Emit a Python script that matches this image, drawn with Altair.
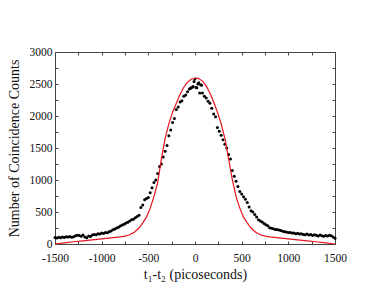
import altair as alt
import pandas as pd

t_data = [-1500, -1480, -1460, -1440, -1420, -1400, -1380, -1360, -1340, -1320,
          -1300, -1280, -1260, -1240, -1220, -1200, -1180, -1160, -1140, -1120,
          -1100, -1080, -1060, -1040, -1020, -1000, -980, -960, -940, -920,
          -900, -880, -860, -840, -820, -800, -780, -760, -740, -720,
          -700, -680, -660, -640, -620, -600, -580, -560, -540, -520,
          -500, -480, -460, -440, -420, -400, -380, -360, -340, -320,
          -300, -280, -260, -240, -220, -200, -180, -160, -140, -120,
          -100, -80, -60, -40, -20, 0, 20, 40, 60, 80,
          100, 120, 140, 160, 180, 200, 220, 240, 260, 280,
          300, 320, 340, 360, 380, 400, 420, 440, 460, 480,
          500, 520, 540, 560, 580, 600, 620, 640, 660, 680,
          700, 720, 740, 760, 780, 800, 820, 840, 860, 880,
          900, 920, 940, 960, 980, 1000, 1020, 1040, 1060, 1080,
          1100, 1120, 1140, 1160, 1180, 1200, 1220, 1240, 1260, 1280,
          1300, 1320, 1340, 1360, 1380, 1400, 1420, 1440, 1460, 1480, 1500,
          -50, -30, -10, 10, 30, 50, 70]
counts = [100, 92, 105, 98, 110, 102, 115, 108, 118, 104,
          112, 128, 138, 132, 122, 140, 110, 96, 125, 118,
          140, 150, 145, 160, 155, 170, 165, 180, 175, 192,
          205, 222, 235, 250, 262, 280, 295, 310, 328, 340,
          360, 378, 388, 410, 430, 450, 570, 610, 690, 710,
          725, 800, 880, 960, 1000, 1100, 1210, 1250, 1360, 1450,
          1540, 1690, 1780, 1900, 1960, 2100, 2140, 2220, 2240, 2310,
          2330, 2380, 2420, 2440, 2460, 2580, 2440, 2520, 2490, 2360,
          2310, 2280, 2230, 2200, 2120, 2030, 1990, 1820, 1760, 1700,
          1630, 1560, 1500, 1400, 1330, 1150, 1060, 980, 900, 820,
          780, 740, 700, 650, 580, 520, 500, 460, 420, 380,
          360, 345, 320, 300, 285, 255, 248, 240, 228, 225,
          218, 210, 198, 192, 188, 180, 178, 170, 172, 162,
          168, 155, 162, 150, 145, 155, 140, 148, 132, 145,
          138, 125, 140, 130, 120, 132, 125, 138, 128, 110, 90,
          2435, 2450, 2540, 2445, 2500, 2360, 2480]

# fitted curve
t_fit = [-1500, -1400, -1300, -1200, -1100, -1000, -900, -800, -750, -700,
         -650, -600, -560, -520, -480, -440, -400, -360, -320, -280,
         -240, -200, -160, -120, -80, -40, 0, 20, 40, 80,
         120, 160, 200, 240, 280, 320, 360, 400, 440, 480,
         520, 560, 600, 650, 700, 750, 800, 900, 1000, 1100,
         1200, 1300, 1400, 1500]
fit = [0, 18, 35, 50, 65, 80, 95, 110, 122, 145,
       185, 250, 330, 420, 560, 740, 960, 1330, 1650, 1880,
       2060, 2200, 2340, 2450, 2530, 2575, 2590, 2592, 2585, 2545,
       2470, 2360, 2220, 2060, 1880, 1650, 1330, 1000, 740, 560,
       420, 330, 250, 185, 145, 122, 110, 95, 80, 65,
       50, 35, 18, 0]

x_ticks = [-1500, -1250, -1000, -750, -500, -250, 0, 250, 500, 750, 1000, 1250, 1500]
y_ticks = [0, 250, 500, 750, 1000, 1250, 1500, 1750, 2000, 2250, 2500, 2750, 3000]

pts = pd.DataFrame({"t": t_data, "n": counts})
crv = pd.DataFrame({"t": t_fit, "n": fit})

FONT = "Liberation Serif, Times New Roman, serif"
W, H = 280, 192

xs = alt.Scale(domain=[-1500, 1500], nice=False)
ys = alt.Scale(domain=[0, 3000], nice=False)

lab = "datum.value % 500 == 0 ? '' + datum.value : ''"

points = alt.Chart(pts).mark_circle(size=9, color="black", opacity=1).encode(
    x=alt.X("t:Q", scale=xs, axis=alt.Axis(
        values=x_ticks, labelExpr=lab, orient="bottom", offset=-3, tickSize=3,
        domain=False, grid=False, labelPadding=8, labelFont=FONT, labelFontSize=11.5,
        labelColor="#111", tickColor="#444", labelFlush=False, labelOverlap=False,
        title="t\u2081-t\u2082 (picoseconds)", titleFont=FONT, titleFontSize=14,
        titleFontWeight="normal", titleColor="#111", titleX=140, titleY=33,
        titleBaseline="middle", titleAnchor="middle")),
    y=alt.Y("n:Q", scale=ys, axis=alt.Axis(
        values=y_ticks, labelExpr=lab, orient="left", offset=-3, tickSize=3,
        domain=False, grid=False, labelPadding=3, labelFont=FONT, labelFontSize=11.5,
        labelColor="#111", tickColor="#444", labelFlush=False, labelOverlap=False,
        title="Number of Coincidence Counts", titleFont=FONT, titleFontSize=14,
        titleFontWeight="normal", titleColor="#111", titleX=-44, titleY=96,
        titleBaseline="middle", titleAnchor="middle", titleAngle=270)),
)

line = alt.Chart(crv).mark_line(color="#e8141c", strokeWidth=1.2).encode(
    x=alt.X("t:Q", scale=xs, axis=alt.Axis(
        values=x_ticks, labels=False, orient="top", offset=-3, tickSize=3,
        domain=False, grid=False, tickColor="#444", title=None)),
    y=alt.Y("n:Q", scale=ys, axis=alt.Axis(
        values=y_ticks, labels=False, orient="right", offset=-3, tickSize=3,
        domain=False, grid=False, tickColor="#444", title=None)),
)

chart = alt.layer(points, line).resolve_axis(
    x="independent", y="independent"
).properties(
    width=W, height=H,
    autosize=alt.AutoSizeParams(type="none"),
    padding={"left": 47, "top": 44, "right": 44, "bottom": 44},
).configure_view(stroke="#444", strokeWidth=1)

chart.save("out.html", embed_options={"renderer": "svg", "actions": False})
